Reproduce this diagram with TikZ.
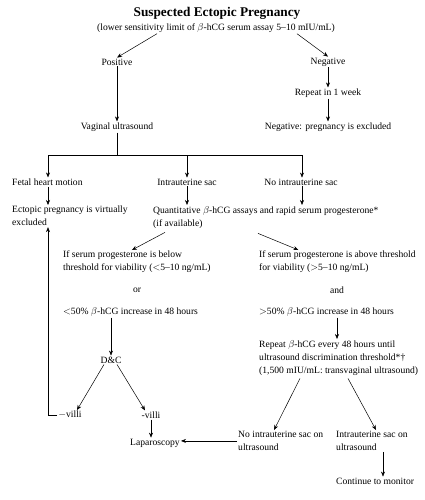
\documentclass[tikz,border=0pt]{standalone}
\usepackage{fontspec}
\setmainfont{Liberation Serif}
\usepackage{tikz}
\usetikzlibrary{calc}
\usetikzlibrary{arrows.meta}
\tikzset{txt/.style={inner sep=1pt,font=\fontsize{9.6}{13}\selectfont},
         ltxt/.style={txt,align=left,anchor=north west},
         wtxt/.style={txt,anchor=west},
         arr/.style={line width=0.5pt,-{Stealth[length=5pt,width=4pt]}},
         ln/.style={line width=0.5pt}
         }

\begin{document}
\begin{tikzpicture}[x=1pt,y=-1pt]
  \useasboundingbox (0,0) rectangle (424,500);
  % heading
  \node[inner sep=1pt,font=\fontsize{13.3}{14}\selectfont\bfseries] (title) at (217,13) {Suspected Ectopic Pregnancy};
  \node[txt] (sub) at (216,28) {(lower sensitivity limit of $\beta$-hCG serum assay 5--10 mIU/mL)};

  \node[txt] (positive) at (117,62) {Positive};
  \node[txt] (negative) at (328,62) {Negative};
  \node[txt] (repeatwk) at (328,93) {Repeat in 1 week};
  \node[txt] (negexcl) at (328,127) {Negative: pregnancy is excluded};
  \node[txt] (vaginal) at (117,127) {Vaginal ultrasound};

  \draw[arr] ([xshift=-59pt]sub.south) -- (positive.north);
  \draw[arr] ([xshift=81pt]sub.south) -- (negative.north);
  \draw[arr] (negative) -- (repeatwk);
  \draw[arr] (repeatwk) -- (negexcl);
  \draw[arr] (positive) -- (vaginal);

  % ultrasound findings
  \coordinate (barL) at (48,155);
  \coordinate (barR) at (302,155);
  \node[wtxt] (fetal) at (11,182) {Fetal heart motion};
  \node[txt] (iusac) at (187,182) {Intrauterine sac};
  \node[txt] (noiusac) at (301,182) {No intrauterine sac};
  \draw[ln] (vaginal.south) -- (vaginal.south |- barL);
  \draw[ln] (barL) -- (barR);
  \draw[arr] (barL) -- (barL |- fetal.north);
  \draw[arr] (iusac.north |- barL) -- (iusac.north);
  \draw[arr] (barR) -- (barR |- noiusac.north);

  \node[ltxt] (ectexcl) at (11,205) {Ectopic pregnancy is virtually\\excluded};
  \node[ltxt] (quant) at (152,205) {Quantitative $\beta$-hCG assays and rapid serum progesterone*\\(if available)};
  \draw[arr] (fetal.south -| barL) -- (ectexcl.north -| barL);
  \draw[arr] (iusac.south) -- (iusac.south |- quant.north);
  \draw[arr] (noiusac.south -| barR) -- (barR |- quant.north);

  % progesterone branches
  \node[ltxt] (below) at (62,250) {If serum progesterone is below\\threshold for viability (${<}$5--10 ng/mL)};
  \node[ltxt] (above) at (258,250) {If serum progesterone is above threshold\\for viability (${>}$5--10 ng/mL)};
  \draw[arr] ($(quant.south west)+(13,3)$) -- ([xshift=-5pt]below.north);
  \draw[arr] ($(quant.south west)+(106,4)$) -- ([xshift=-39pt]above.north);

  \node[txt] (or) at (137,290) {or};
  \node[txt] (and) at (337,290) {and};
  \node[wtxt] (lowinc) at (62,312) {${<}$50\% $\beta$-hCG increase in 48 hours};
  \node[wtxt] (highinc) at (258,312) {${>}$50\% $\beta$-hCG increase in 48 hours};

  % left side
  \node[txt] (dc) at (111,360) {D\&C};
  \node[txt] (negvilli) at (70,415) {$-$villi};
  \node[txt] (posvilli) at (151,415) {-villi};
  \node[txt] (lap) at (155,443) {Laparoscopy};
  \draw[arr] (dc.north |- lowinc.south) -- (dc.north);
  \draw[arr] ([xshift=-7pt]dc.south) -- ([xshift=7pt]negvilli.north);
  \draw[arr] ([xshift=6pt]dc.south) -- ([xshift=-6pt]posvilli.north);
  \draw[arr] (posvilli.south) -- (posvilli.south |- lap.north);
  \draw[arr] (negvilli.west) -| (ectexcl.south -| barL);

  % right side
  \node[ltxt] (repeathcg) at (258,339) {Repeat $\beta$-hCG every 48 hours until\\ultrasound discrimination threshold*\textdagger\\(1,500 mIU/mL: transvaginal ultrasound)};
  \node[ltxt] (nosac) at (237,430) {No intrauterine sac on\\ultrasound};
  \node[ltxt] (sac) at (335,430) {Intrauterine sac on\\ultrasound};
  \node[wtxt] (monitor) at (335,481) {Continue to monitor};
  \coordinate (sacdown) at ($(sac.south west)+(48,0)$);
  \draw[arr] (highinc.south -| and) -- (and |- repeathcg.north);
  \draw[arr] ($(repeathcg.south west)+(42,2)$) -- ($(nosac.north west)+(37,0)$);
  \draw[arr] ($(repeathcg.south west)+(90,2)$) -- ($(sac.north west)+(41,0)$);
  \draw[arr] (nosac.west) -- (nosac.west -| lap.east);
  \draw[arr] (sacdown) -- (sacdown |- monitor.north);
\end{tikzpicture}
\end{document}
